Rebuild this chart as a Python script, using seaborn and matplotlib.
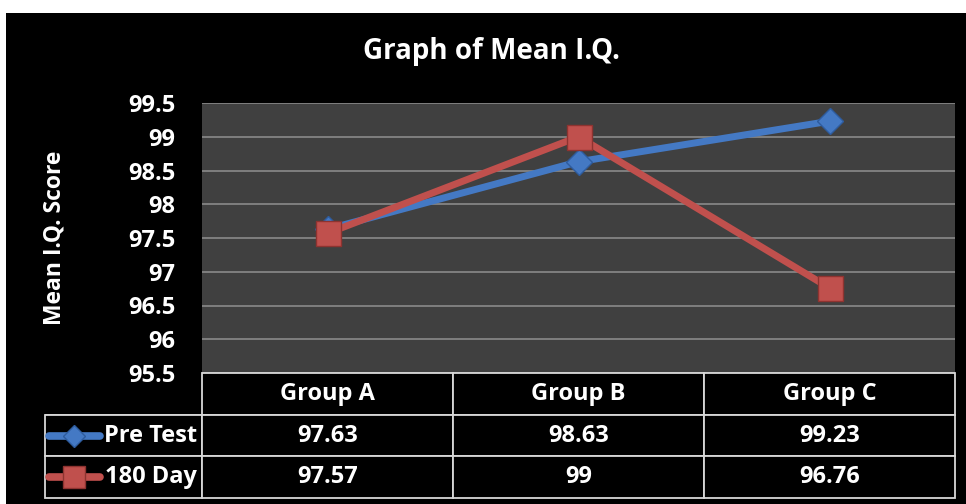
import pandas as pd
import seaborn as sns
from matplotlib import pyplot as plt
from matplotlib.lines import Line2D
from matplotlib.patches import Rectangle
from matplotlib.ticker import FuncFormatter, MultipleLocator

groups   = ['Group A', 'Group B', 'Group C']
pre_test = [97.63, 98.63, 99.23]
day_180  = [97.57, 99, 96.76]
series   = ['Pre Test', '180 Day']

BLUE  = '#4479c4'
RED   = '#c0504d'
FONT  = ['Open Sans', 'DejaVu Sans']

sns.set_theme(style='dark')
plt.rcParams['font.family'] = FONT
plt.rcParams['font.weight'] = 'bold'

df = pd.DataFrame({'group': groups * 2,
                   'score': pre_test + day_180,
                   'series': [series[0]] * 3 + [series[1]] * 3})

fig = plt.figure(figsize=(9.66, 5.04), dpi=100, facecolor='white')
# black chart area (white strip on top and left like the original screenshot)
fig.patches.append(Rectangle((6/966, 0), 1, 1 - 13/504, transform=fig.transFigure,
                             facecolor='black', edgecolor='none', zorder=-10))

ax = fig.add_axes([202/966, 1 - 373/504, 753/966, 270/504])
ax.set_facecolor('#404040')

sns.lineplot(data=df, x='group', y='score', hue='series', style='series',
             palette={series[0]: BLUE, series[1]: RED},
             markers={series[0]: 'D', series[1]: 's'}, dashes=False,
             linewidth=5, ax=ax, legend=False)
sizes = {series[0]: 13, series[1]: 18}
edges = {series[0]: '#2e5c9e', series[1]: '#8e3330'}
for line, s in zip(ax.lines, series):
    line.set_markersize(sizes[s])
    line.set_markeredgecolor(edges[s])
    line.set_markeredgewidth(1)
ax.lines[1].set_zorder(3)
ax.lines[0].set_zorder(2)

ax.set_xlim(-0.5, 2.5)
ax.set_ylim(95.5, 99.5)
ax.yaxis.set_major_locator(MultipleLocator(0.5))
ax.yaxis.set_major_formatter(FuncFormatter(lambda v, p: f'{v:g}'))
ax.grid(True, axis='y', color='#8a8a8a', linewidth=1.2)
ax.grid(False, axis='x')
ax.set_xticks([])
ax.tick_params(axis='y', colors='white', labelsize=17, pad=19, length=0)
for lbl in ax.get_yticklabels():
    lbl.set_fontweight('bold')
for sp in ax.spines.values():
    sp.set_visible(False)
ax.set_xlabel('')
ax.set_ylabel('Mean I.Q. Score', color='white', fontsize=16.5, fontweight='bold')
ax.yaxis.set_label_coords(-(202 - 55)/753, 0.5)
ax.yaxis.label.set_va('center')

fig.text(492/966, 1 - 52/504, 'Graph of Mean I.Q.', color='white', fontsize=20,
         fontweight='bold', ha='center', va='center')

# data table under the plot
tax = fig.add_axes([45/966, 1 - 498/504, 910/966, 125/504])
tax.axis('off')
cells = [[''] + groups,
         [series[0]] + [f'{v:g}' for v in pre_test],
         [series[1]] + [f'{v:g}' for v in day_180]]
w = [157/910] + [251/910] * 3
tab = tax.table(cellText=cells, colWidths=w, bbox=[0, 0, 1, 1], cellLoc='center')
tab.auto_set_font_size(False)
for (r, c), cell in tab.get_celld().items():
    cell.set_facecolor('black')
    cell.set_edgecolor('#d8d8d8')
    cell.set_linewidth(1.3)
    cell.get_text().set_color('white')
    cell.get_text().set_fontsize(17)
    cell.get_text().set_fontweight('bold')
    if c == 0:
        cell.get_text().set_ha('right')
        cell.PAD = 0.03
    if r == 0 and c == 0:
        cell.visible_edges = 'B'

# legend keys in the table
for i, (s, col, m) in enumerate(zip(series, [BLUE, RED], ['D', 's'])):
    yy = (1.5 - i) / 3
    tax.add_line(Line2D([4/910, 55/910], [yy, yy], color=col, linewidth=5.5,
                        transform=tax.transAxes, zorder=5))
    tax.add_line(Line2D([29/910], [yy], color=col, marker=m, markersize=sizes[s] * 0.85,
                        markeredgecolor=edges[s], linestyle='none',
                        transform=tax.transAxes, zorder=6))

plt.savefig('out.png', dpi=100, facecolor=fig.get_facecolor())
